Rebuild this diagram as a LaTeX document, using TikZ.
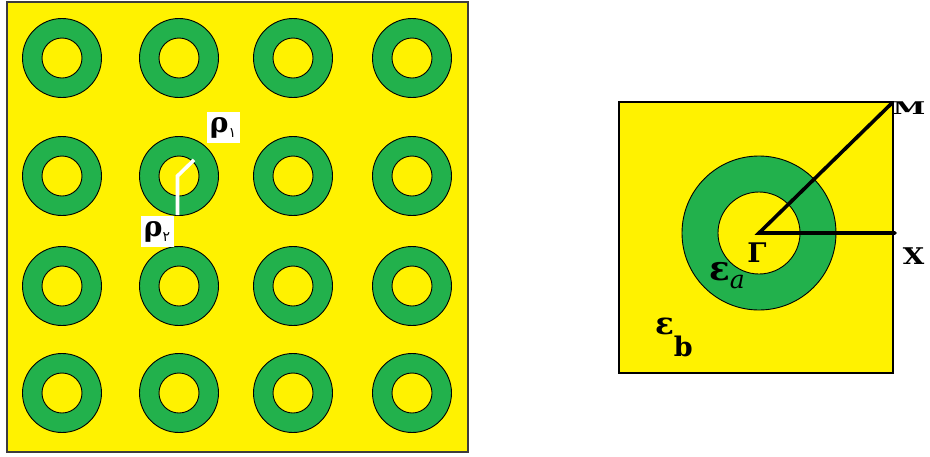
\documentclass[tikz,border=0pt]{standalone}
\usepackage{fontspec}
\setmainfont{DejaVu Serif}
\newfontfamily\arabicfont[Script=Arabic]{DejaVu Sans}
\usetikzlibrary{calc}
\definecolor{CellYellow}{HTML}{FFF200}
\definecolor{RodGreen}{HTML}{22B14C}
\definecolor{FrameGray}{HTML}{3C3C3C}
\tikzset{
  cellframe/.style={fill=CellYellow,draw=FrameGray,line width=1.8pt},
  ringouter/.style={fill=RodGreen,draw=black,line width=0.9pt},
  ringinner/.style={fill=CellYellow,draw=black,line width=0.9pt},
  radiusarm/.style={draw=white,line width=3.6pt},
  radiustag/.style={fill=white,inner sep=0pt,minimum width=33pt,minimum height=31pt,font=\bfseries\fontsize{28}{30}\selectfont},
  pathline/.style={draw=black,line width=3.6pt,line cap=round},
  pointlabel/.style={inner sep=0pt,font=\bfseries}
}
\newcommand{\arsub}[1]{\raisebox{-5pt}{\arabicfont\mdseries\fontsize{14}{14}\selectfont #1}}

\begin{document}
\begin{tikzpicture}[x=1pt,y=-1pt]
  \useasboundingbox (0,0) rectangle (930,456);
  % photonic crystal lattice
  \draw[cellframe] (7,2) rectangle (468,452);
  \foreach \cx/\col in {62/1,179/2,293/3,412/4}
    \foreach \cy/\row in {58/1,176/2,286/3,393/4}{
      \coordinate (rod\row\col) at (\cx,\cy);
      \draw[ringouter] (rod\row\col) circle (39.5pt);
      \draw[ringinner] (rod\row\col) circle (20pt);
    }
  \coordinate (armtop) at ($(rod22)+(-47:22)$);
  \coordinate (armlow) at ($(rod22)+(-1.5,39)$);
  \coordinate (armmid) at ($(rod22)+(-1.5,0)$);
  \draw[radiusarm] (armtop) -- (armmid) -- (armlow);
  \node[radiustag] (rhoone) at (223,127.5) {ρ\arsub{١}\hspace{2pt}};
  \node[radiustag] (rhotwo) at (157,231.5) {ρ\arsub{٢}\hspace{2pt}};

  % unit cell and Brillouin zone path
  \draw[cellframe,draw=black,line width=1.5pt] (619,102) rectangle (893,373);
  \coordinate (gammapt) at (759,233);
  \draw[ringouter] (gammapt) circle (77pt);
  \draw[ringinner] (gammapt) circle (41pt);
  \coordinate (mpt) at (891,104);
  \coordinate (xpt) at (895,233);
  \draw[pathline] (mpt) -- (gammapt) -- (xpt);
  \node[pointlabel,font=\bfseries\fontsize{17.5}{19}\selectfont] (mlab) at (909,108) {\scalebox{1.7}[1]{M}};
  \node[pointlabel,font=\bfseries\fontsize{23}{25}\selectfont] (xlab) at (913.5,256.5) {\scalebox{1.2}[1]{X}};
  \node[pointlabel,font=\bfseries\fontsize{27}{29}\selectfont] (glab) at (757,252.5) {Γ};
  \node[inner sep=0pt] (epsa) at (727,276)
    {{\bfseries\fontsize{34}{36}\selectfont ε}\raisebox{-8pt}{\itshape\fontsize{25}{27}\selectfont a}};
  \node[inner sep=0pt] (epsb) at (674,337.5)
    {{\bfseries\fontsize{31}{33}\selectfont ε}\raisebox{-22pt}{\bfseries\fontsize{27}{29}\selectfont b}};
\end{tikzpicture}
\end{document}
